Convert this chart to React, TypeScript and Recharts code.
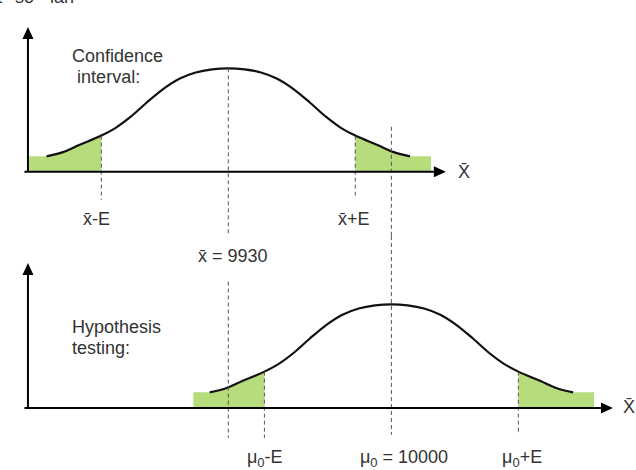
import React from 'react'
import { ComposedChart, Line, Area, XAxis, YAxis, ReferenceLine, ReferenceDot } from 'recharts'

// confidence interval panel, curve centred on x̄ = 9930
const ciX = [9852, 9859, 9866, 9875.5, 9882, 9888, 9895, 9902, 9909, 9916, 9923, 9930, 9937, 9944, 9951, 9958, 9965, 9972, 9978, 9984.5, 9994, 10001, 10008]
const ciY = [0.15, 0.19, 0.26, 0.35, 0.43, 0.53, 0.67, 0.8, 0.9, 0.96, 0.99, 1, 0.99, 0.96, 0.9, 0.8, 0.67, 0.53, 0.43, 0.35, 0.26, 0.19, 0.15]
const ciLeftX = [9844.5, 9852, 9859, 9866, 9875.5]
const ciLeftY = [0.15, 0.15, 0.19, 0.26, 0.35]
const ciRightX = [9984.5, 9994, 10001, 10008, 10017]
const ciRightY = [0.35, 0.26, 0.19, 0.15, 0.15]

// hypothesis testing panel, curve centred on μ0 = 10000
const htX = [9922, 9929, 9936, 9945.5, 9952, 9958, 9965, 9972, 9979, 9986, 9993, 10000, 10007, 10014, 10021, 10028, 10035, 10042, 10048, 10054.5, 10064, 10071, 10078]
const htY = [0.15, 0.19, 0.26, 0.35, 0.43, 0.53, 0.67, 0.8, 0.9, 0.96, 0.99, 1, 0.99, 0.96, 0.9, 0.8, 0.67, 0.53, 0.43, 0.35, 0.26, 0.19, 0.15]
const htLeftX = [9915, 9922, 9929, 9936, 9945.5]
const htLeftY = [0.15, 0.15, 0.19, 0.26, 0.35]
const htRightX = [10054.5, 10064, 10071, 10078, 10087]
const htRightY = [0.35, 0.26, 0.19, 0.15, 0.15]

const X_BAR = 9930
const MU0 = 10000
const E = 54.5
const X_DOMAIN: [number, number] = [9832, 10105]

const GREEN = '#b6dc7b'
const DASH = '#555'
const font = { fontFamily: '"Liberation Sans", Arial, Helvetica, sans-serif', fontSize: 18, fill: '#333' }

function table(series: Record<string, [number[], number[]]>) {
  const rows = new Map<number, any>()
  const keys = Object.keys(series)
  for (const key of keys) {
    const [xs, ys] = series[key]
    xs.forEach((x, i) => {
      const row = rows.get(x) ?? Object.fromEntries([['x', x], ...keys.map((k) => [k, null])])
      row[key] = ys[i]
      rows.set(x, row)
    })
  }
  return [...rows.values()].sort((a, b) => a.x - b.x)
}

const ciData = table({ curve: [ciX, ciY], left: [ciLeftX, ciLeftY], right: [ciRightX, ciRightY] })
const htData = table({ curve: [htX, htY], left: [htLeftX, htLeftY], right: [htRightX, htRightY] })

const Arrow = (p: any) => {
  const { x1, y1, x2, y2 } = p
  const len = Math.hypot(x2 - x1, y2 - y1) || 1
  const ux = (x2 - x1) / len
  const uy = (y2 - y1) / len
  const bx = x2 - ux * 12
  const by = y2 - uy * 12
  return (
    <g>
      <line x1={x1} y1={y1} x2={bx} y2={by} stroke="#000" strokeWidth={2} />
      <polygon points={`${x2},${y2} ${bx - uy * 5.5},${by + ux * 5.5} ${bx + uy * 5.5},${by - ux * 5.5}`} fill="#000" />
    </g>
  )
}

const label = (content: React.ReactNode) => (p: any) => (
  <text x={p.cx} y={p.cy} {...font}>
    {content}
  </text>
)

const mu = (rest: string) => (
  <>
    μ<tspan fontSize={13} dy={4}>0</tspan>
    <tspan dy={-4}>{rest}</tspan>
  </>
)

const dashed = { stroke: DASH, strokeDasharray: '4 3', strokeWidth: 1 }

export default function App() {
  return (
    <div style={{ width: 636, height: 470, overflow: 'hidden', background: '#fff' }}>
      <style>{'html,body{margin:0;overflow:hidden;background:#fff}'}</style>

      <ComposedChart width={636} height={236} data={ciData} margin={{ top: 0, right: 0, bottom: 0, left: 0 }}>
        <XAxis type="number" dataKey="x" domain={X_DOMAIN} hide allowDataOverflow />
        <YAxis type="number" domain={[-0.62, 1.66]} hide allowDataOverflow />
        <Area dataKey="left" type="monotone" baseValue={0} fill={GREEN} fillOpacity={1} stroke="none" dot={false} activeDot={false} isAnimationActive={false} />
        <Area dataKey="right" type="monotone" baseValue={0} fill={GREEN} fillOpacity={1} stroke="none" dot={false} activeDot={false} isAnimationActive={false} />
        <Line dataKey="curve" type="monotone" stroke="#111" strokeWidth={2.2} dot={false} activeDot={false} isAnimationActive={false} />

        <ReferenceLine segment={[{ x: X_BAR - E, y: 0.35 }, { x: X_BAR - E, y: -0.27 }]} {...dashed} />
        <ReferenceLine segment={[{ x: X_BAR, y: 1 }, { x: X_BAR, y: -0.6 }]} {...dashed} />
        <ReferenceLine segment={[{ x: X_BAR + E, y: 0.35 }, { x: X_BAR + E, y: -0.26 }]} {...dashed} />
        <ReferenceLine segment={[{ x: MU0, y: 0.435 }, { x: MU0, y: -0.62 }]} {...dashed} />

        <ReferenceLine segment={[{ x: 9842.5, y: 0 }, { x: 10023.4, y: 0 }]} shape={Arrow} />
        <ReferenceLine segment={[{ x: 9844, y: 0 }, { x: 9844, y: 1.4 }]} shape={Arrow} />

        <ReferenceDot
          x={9832}
          y={1.633}
          shape={(p: any) => (
            <text y={p.cy} {...font}>
              <tspan x={p.cx - 3}>t</tspan>
              <tspan x={p.cx + 15}>số</tspan>
              <tspan x={p.cx + 50}>lần</tspan>
            </text>
          )}
        />
        <ReferenceDot x={9862.9} y={1.063} shape={label('Confidence')} />
        <ReferenceDot x={9865.1} y={0.86} shape={label('interval:')} />
        <ReferenceDot x={9867.6} y={-0.512} shape={label('x̄-E')} />
        <ReferenceDot x={9977.1} y={-0.512} shape={label('x̄+E')} />
        <ReferenceDot x={10028.6} y={-0.058} shape={label('X̄')} />
      </ComposedChart>

      <ComposedChart width={636} height={234} data={htData} margin={{ top: 0, right: 0, bottom: 0, left: 0 }}>
        <XAxis type="number" dataKey="x" domain={X_DOMAIN} hide allowDataOverflow />
        <YAxis type="number" domain={[-0.6, 1.66]} hide allowDataOverflow />
        <Area dataKey="left" type="monotone" baseValue={0} fill={GREEN} fillOpacity={1} stroke="none" dot={false} activeDot={false} isAnimationActive={false} />
        <Area dataKey="right" type="monotone" baseValue={0} fill={GREEN} fillOpacity={1} stroke="none" dot={false} activeDot={false} isAnimationActive={false} />
        <Line dataKey="curve" type="monotone" stroke="#111" strokeWidth={2.2} dot={false} activeDot={false} isAnimationActive={false} />

        <ReferenceLine segment={[{ x: X_BAR, y: 1.22 }, { x: X_BAR, y: -0.29 }]} {...dashed} />
        <ReferenceLine segment={[{ x: MU0 - E, y: 0.35 }, { x: MU0 - E, y: -0.29 }]} {...dashed} />
        <ReferenceLine segment={[{ x: MU0, y: 1.66 }, { x: MU0, y: -0.26 }]} {...dashed} />
        <ReferenceLine segment={[{ x: MU0 + E, y: 0.35 }, { x: MU0 + E, y: -0.26 }]} {...dashed} />

        <ReferenceLine segment={[{ x: 9842.5, y: 0 }, { x: 10095.1, y: 0 }]} shape={Arrow} />
        <ReferenceLine segment={[{ x: 9844, y: 0 }, { x: 9844, y: 1.4 }]} shape={Arrow} />

        <ReferenceDot x={9917} y={1.41} shape={label('x̄ = 9930')} />
        <ReferenceDot x={9862.9} y={0.725} shape={label('Hypothesis')} />
        <ReferenceDot x={9862.9} y={0.522} shape={label('testing:')} />
        <ReferenceDot x={9938} y={-0.531} shape={label(mu('-E'))} />
        <ReferenceDot x={9986.5} y={-0.531} shape={label(mu(' = 10000'))} />
        <ReferenceDot x={10047.5} y={-0.531} shape={label(mu('+E'))} />
        <ReferenceDot x={10099.4} y={-0.048} shape={label('X̄')} />
      </ComposedChart>
    </div>
  )
}
